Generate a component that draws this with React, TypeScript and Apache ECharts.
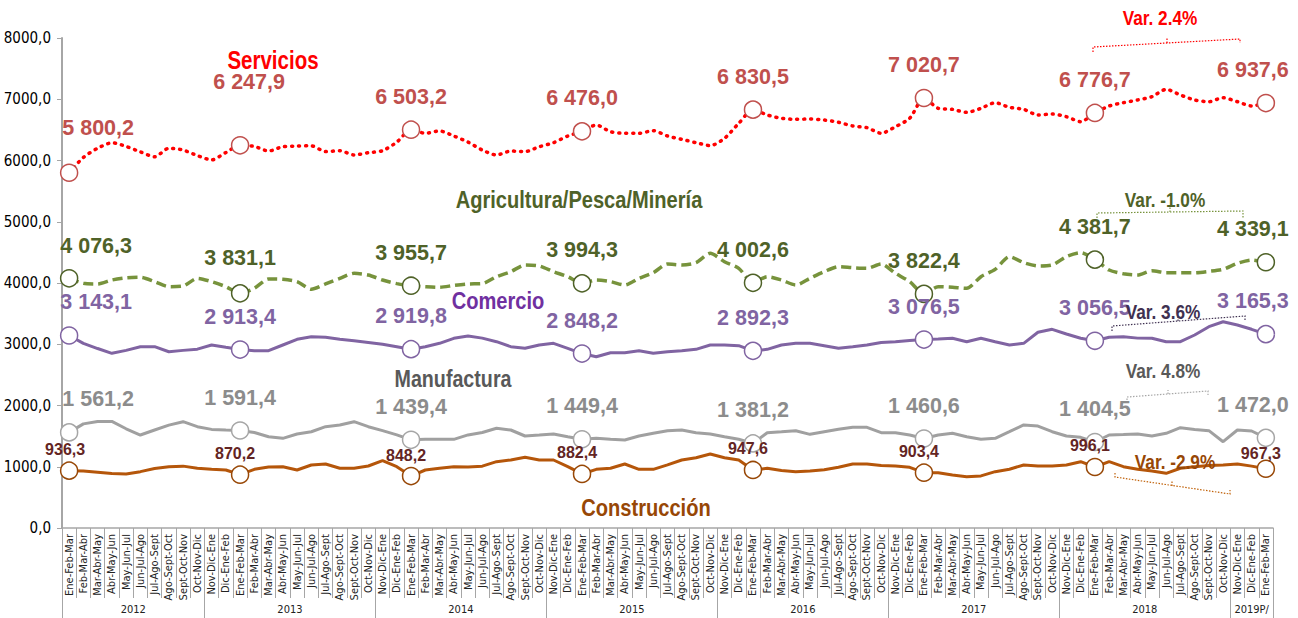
import React, { useEffect, useRef } from "react";
import * as echarts from "echarts";

const quarterLabels = [
  "Nov-Dic-Ene", "Dic-Ene-Feb", "Ene-Feb-Mar", "Feb-Mar-Abr", "Mar-Abr-May", "Abr-May-Jun",
  "May-Jun-Jul", "Jun-Jul-Ago", "Jul-Ago-Sept", "Ago-Sept-Oct", "Sept-Oct-Nov", "Oct-Nov-Dic",
];
const years = ["2012", "2013", "2014", "2015", "2016", "2017", "2018", "2019P/"];
const yearCounts = [10, 12, 12, 12, 12, 12, 12, 3];
const categories: string[] = [
  ...quarterLabels.slice(2),
  ...quarterLabels, ...quarterLabels, ...quarterLabels,
  ...quarterLabels, ...quarterLabels, ...quarterLabels,
  ...quarterLabels.slice(0, 3),
];

const servicios = [
  5800.2, 6050, 6200, 6290, 6230, 6140, 6060, 6200, 6170, 6080, 6010, 6130,
  6247.9, 6230, 6155, 6225, 6236, 6240, 6145, 6160, 6090, 6127, 6160, 6300,
  6503.2, 6444, 6482, 6400, 6300, 6170, 6090, 6155, 6145, 6225, 6290, 6400,
  6476.0, 6580, 6470, 6444, 6444, 6487, 6400, 6346, 6291, 6242, 6362, 6607,
  6830.5, 6743, 6689, 6672, 6678, 6661, 6624, 6563, 6536, 6444, 6552, 6689,
  7020.7, 6852, 6835, 6786, 6852, 6944, 6868, 6835, 6743, 6759, 6715, 6633,
  6776.7, 6890, 6944, 6988, 7042, 7162, 7069, 6988, 6960, 7025, 6960, 6890,
  6937.6,
];
const agricultura = [
  4076.3, 3995, 3984, 4049, 4085, 4093, 4022, 3940, 3951, 4076, 4022, 3940,
  3831.1, 3913, 4065, 4060, 4022, 3897, 3984, 4076, 4158, 4131, 4049, 3990,
  3955.7, 3940, 3930, 3960, 3984, 3990, 4103, 4185, 4294, 4278, 4185, 4103,
  3994.3, 4049, 4022, 3967, 4076, 4168, 4310, 4294, 4332, 4485, 4348, 4240,
  4002.6, 4103, 4049, 3967, 4076, 4185, 4267, 4250, 4240, 4310, 4158, 4022,
  3822.4, 3940, 3930, 3913, 4103, 4223, 4430, 4332, 4278, 4294, 4430, 4495,
  4381.7, 4212, 4150, 4131, 4201, 4168, 4168, 4168, 4190, 4223, 4321, 4375,
  4339.1,
];
const comercio = [
  3143.1, 3015, 2930, 2852, 2900, 2960, 2960, 2878, 2900, 2920, 2988, 2950,
  2913.4, 2895, 2895, 2988, 3081, 3124, 3113, 3081, 3058, 3030, 3000, 2960,
  2919.8, 2960, 3015, 3097, 3135, 3100, 3042, 2960, 2934, 2988, 3015, 2934,
  2848.2, 2797, 2862, 2862, 2895, 2852, 2878, 2895, 2917, 2988, 2988, 2977,
  2892.3, 2917, 2988, 3015, 3015, 2975, 2934, 2960, 2988, 3030, 3042, 3060,
  3076.5, 3085, 3097, 3042, 3097, 3042, 2988, 3015, 3195, 3244, 3167, 3097,
  3056.5, 3113, 3124, 3100, 3097, 3042, 3042, 3151, 3287, 3368, 3314, 3244,
  3165.3,
];
const manufactura = [
  1561.2, 1700, 1740, 1740, 1620, 1518, 1600, 1680, 1736, 1654, 1610, 1600,
  1591.4, 1560, 1490, 1464, 1535, 1572, 1654, 1682, 1736, 1654, 1589, 1520,
  1439.4, 1448, 1448, 1448, 1520, 1560, 1628, 1600, 1502, 1518, 1535, 1491,
  1449.4, 1464, 1450, 1437, 1502, 1546, 1589, 1600, 1556, 1535, 1491, 1448,
  1381.2, 1556, 1572, 1589, 1529, 1572, 1611, 1644, 1644, 1556, 1556, 1518,
  1460.6, 1518, 1546, 1491, 1448, 1464, 1572, 1682, 1665, 1572, 1502, 1480,
  1404.5, 1518, 1525, 1535, 1502, 1546, 1638, 1610, 1589, 1409, 1600, 1584,
  1472.0,
];
const construccion = [
  936.3, 930, 910, 890, 882, 920, 970, 1000, 1010, 975, 958, 947,
  870.2, 958, 995, 1001, 947, 1029, 1045, 975, 975, 1012, 1099, 1001,
  848.2, 947, 975, 1001, 995, 1010, 1083, 1110, 1154, 1110, 1110, 1001,
  882.4, 958, 975, 1045, 958, 958, 1030, 1110, 1148, 1208, 1148, 1110,
  947.6, 975, 940, 920, 930, 950, 991, 1045, 1045, 1020, 1012, 991,
  903.4, 903, 865, 838, 850, 920, 960, 1029, 1012, 1012, 1029, 1083,
  996.1, 1083, 1001, 960, 930, 893, 975, 1000, 1020, 1029, 1045, 1010,
  967.3,
];

const variations = ["Var. 2.4%", "Var. -1.0%", "Var. 3.6%", "Var. 4.8%", "Var. -2.9%"];
const sectorNames = ["Servicios", "Agricultura/Pesca/Minería", "Comercio", "Manufactura", "Construcción"];

const SANS = '"Liberation Sans", Arial, sans-serif';
const COND = '"DejaVu Sans Condensed", "Liberation Sans Narrow", sans-serif';

function fmt(v: number): string {
  const [i, d] = v.toFixed(1).split(".");
  return i.replace(/\B(?=(\d{3})+(?!\d))/g, " ") + "," + d;
}

const yearBounds: number[] = [0];
yearCounts.forEach((c) => yearBounds.push(yearBounds[yearBounds.length - 1] + c));
const yearCenters = yearCounts.map((c, k) => yearBounds[k] + c / 2);

type SeriesStyle = {
  line: string;
  width: number;
  type: any;
  cap?: string;
  marker: string;
  label: string;
  fontSize: number;
  dy: number;
  smooth: number | boolean;
  firstDx: number;
  firstDy?: number;
  secondDy?: number;
  secondDx?: number;
  lastDx: number;
  lastDy?: number;
  baseDx?: number;
};

function buildSeries(name: string, values: number[], s: SeriesStyle) {
  const last = values.length - 1;
  return {
    name,
    type: "line",
    smooth: s.smooth,
    showSymbol: true,
    showAllSymbol: true,
    symbol: "circle",
    symbolSize: 17,
    lineStyle: { color: s.line, width: s.width, type: s.type, cap: s.cap || "butt" },
    itemStyle: { color: "#ffffff", borderColor: s.marker, borderWidth: 1.5 },
    emphasis: { disabled: true },
    data: values.map((v, i) => {
      if (i % 12 !== 0) return { value: v, symbol: "none", label: { show: false } };
      let dx = s.baseDx || 0;
      let dy = s.dy;
      if (i === 0) { dx = s.firstDx; if (s.firstDy !== undefined) dy = s.firstDy; }
      if (i === 12) { if (s.secondDy !== undefined) dy = s.secondDy; if (s.secondDx !== undefined) dx = s.secondDx; }
      if (i === last) { dx = s.lastDx; if (s.lastDy !== undefined) dy = s.lastDy; }
      return {
        value: v,
        label: {
          show: true,
          position: "inside",
          offset: [dx, dy],
          formatter: () => fmt(v),
          color: s.label,
          fontSize: s.fontSize,
          fontWeight: "bold",
          fontFamily: SANS,
        },
      };
    }),
  };
}

function bracket(pts: number[][], mid: number[][], color: string) {
  return [
    { type: "polyline", shape: { points: pts }, style: { stroke: color, lineWidth: 1.2, lineDash: [1.5, 1.5], fill: null }, silent: true },
    { type: "polyline", shape: { points: mid }, style: { stroke: color, lineWidth: 1.2, lineDash: [1.5, 1.5], fill: null }, silent: true },
  ];
}

// narrow bold text: Arial-metric font compressed horizontally
function txt(text: string, x: number, y: number, color: string, size: number) {
  return {
    type: "text",
    x,
    y,
    scaleX: 0.82,
    silent: true,
    z: 100,
    style: {
      text,
      fill: color,
      font: `bold ${size}px ${SANS}`,
      textAlign: "center",
      textVerticalAlign: "middle",
    },
  };
}

export default function App() {
  const ref = useRef<HTMLDivElement>(null);
  useEffect(() => {
    const chart = echarts.init(ref.current!, null, { renderer: "svg" });
    const axisGrey = "#a6a6a6";
    const option: any = {
      animation: false,
      backgroundColor: "#ffffff",
      grid: { left: 62, right: 25, top: 38, bottom: 90, containLabel: false, outerBoundsMode: "none" },
      xAxis: [
        {
          type: "category",
          data: categories,
          boundaryGap: true,
          axisLine: { show: true, lineStyle: { color: axisGrey, width: 1.5 } },
          axisTick: { show: true, interval: 0, length: 70, lineStyle: { color: axisGrey, width: 1 } },
          axisLabel: {
            interval: 0,
            rotate: 90,
            margin: 6,
            fontSize: 11,
            color: "#222",
            fontFamily: COND,
          },
          splitLine: { show: false },
        },
        {
          type: "value",
          min: 0,
          max: categories.length,
          position: "bottom",
          axisLine: { show: false },
          axisTick: { show: true, customValues: yearBounds, length: 90, lineStyle: { color: axisGrey, width: 1 } },
          axisLabel: {
            customValues: yearCenters,
            margin: 76,
            fontSize: 11,
            color: "#222",
            fontFamily: COND,
            formatter: (v: number) => {
              const k = yearCenters.findIndex((c) => Math.abs(c - v) < 0.01);
              return k >= 0 ? years[k] : "";
            },
          },
          splitLine: { show: false },
        },
      ],
      yAxis: {
        type: "value",
        min: 0,
        max: 8000,
        interval: 1000,
        axisLine: { show: true, lineStyle: { color: axisGrey, width: 2 } },
        axisTick: { show: true, length: 5, lineStyle: { color: axisGrey } },
        axisLabel: {
          formatter: (v: number) => v.toFixed(1).replace(".", ","),
          fontSize: 15,
          color: "#000",
          margin: 11,
          fontFamily: COND,
        },
        splitLine: { show: false },
      },
      series: [
        buildSeries(sectorNames[4], construccion, {
          line: "#b5560a", width: 3, type: "solid", marker: "#984807", label: "#632523",
          fontSize: 16, dy: -21, smooth: false, firstDx: -4, baseDx: -5, lastDx: -5, lastDy: -15,
        }),
        buildSeries(sectorNames[3], manufactura, {
          line: "#a0a0a0", width: 3, type: "solid", marker: "#a6a6a6", label: "#8c8c8c",
          fontSize: 21.5, dy: -33, smooth: false, firstDx: 29, lastDx: -13,
        }),
        buildSeries(sectorNames[2], comercio, {
          line: "#8064a2", width: 3, type: "solid", marker: "#8064a2", label: "#8064a2",
          fontSize: 21.5, dy: -33, smooth: false, firstDx: 27, lastDx: -13,
        }),
        buildSeries(sectorNames[1], agricultura, {
          line: "#77933c", width: 3.5, type: [10, 5], marker: "#4f6228", label: "#4f6228",
          fontSize: 21.5, dy: -33, smooth: 0.25, firstDx: 27, firstDy: -32, secondDy: -35, lastDx: -13,
        }),
        buildSeries(sectorNames[0], servicios, {
          line: "#ff0000", width: 3.5, type: [1, 6], cap: "round", marker: "#c0504d", label: "#c0504d",
          fontSize: 21.5, dy: -33, smooth: 0.25, firstDx: 29, firstDy: -45, secondDy: -63, secondDx: 9, lastDx: -13,
        }),
      ],
      graphic: [
        txt(sectorNames[0], 273, 60, "#ff0000", 25),
        txt(sectorNames[1], 579, 200, "#4f6228", 24.5),
        txt(sectorNames[2], 498, 301, "#7030a0", 24.5),
        txt(sectorNames[3], 453, 379, "#595959", 24),
        txt(sectorNames[4], 646, 508, "#974706", 24.5),
        txt(variations[0], 1160, 18, "#ff0000", 21),
        ...bracket([[1093, 52], [1093, 47], [1240, 39], [1240, 43]], [[1167, 43], [1167, 38]], "#ff0000"),
        txt(variations[1], 1165, 200, "#4f6228", 21),
        ...bracket([[1097, 218], [1097, 213], [1243, 211], [1243, 218]], [[1170, 212], [1170, 206]], "#77933c"),
        txt(variations[2], 1163, 312, "#3f3151", 21),
        ...bracket([[1112, 331], [1112, 326], [1245, 316], [1245, 321]], [[1178, 321], [1178, 316]], "#3f3151"),
        txt(variations[3], 1163, 371, "#595959", 21),
        ...bracket([[1127, 400], [1127, 397], [1208, 391], [1208, 395]], [[1168, 394], [1168, 390]], "#a6a6a6"),
        txt(variations[4], 1175, 462, "#974706", 21),
        ...bracket([[1115, 473], [1115, 477], [1230, 494], [1230, 490]], [[1172, 486], [1172, 481]], "#c0620a"),
      ],
    };
    chart.setOption(option);
    return () => chart.dispose();
  }, []);
  return (
    <div
      ref={ref}
      style={{ position: "absolute", left: 0, top: 0, width: 1298, height: 618, background: "#fff" }}
    />
  );
}
